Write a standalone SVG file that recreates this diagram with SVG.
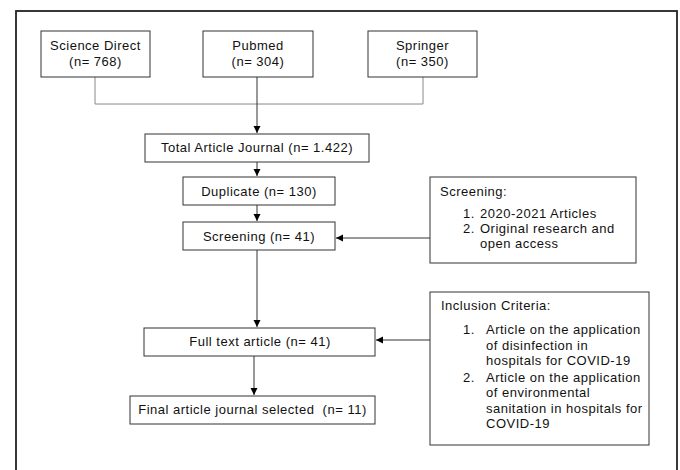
<svg xmlns="http://www.w3.org/2000/svg" width="680" height="470" viewBox="0 0 680 470">
<defs>
<marker id="ah" markerWidth="8" markerHeight="8" refX="7" refY="4" orient="auto" markerUnits="userSpaceOnUse">
<path d="M0,0.5 L7,4 L0,7.5 z" fill="#000"/>
</marker>
<style>
.box{fill:#fff;stroke:#333;stroke-width:1}
.t{font-family:"Liberation Sans",Arial,sans-serif;font-size:13px;letter-spacing:0.5px;fill:#111}
.c{text-anchor:middle}
.ln{fill:none;stroke:#333;stroke-width:1}
.gl{fill:none;stroke:#888;stroke-width:1}
</style>
</defs>
<rect x="0" y="0" width="680" height="470" fill="#fff"/>
<rect id="frame" x="16" y="11" width="661" height="470" fill="none" stroke="#222" stroke-width="1.8"/>
<g id="connectors">
<polyline class="gl" points="95,77 95,104 423,104 423,77"/>
<line class="ln" x1="257" y1="77" x2="257" y2="133" marker-end="url(#ah)"/>
<line class="ln" x1="257" y1="162" x2="257" y2="176" marker-end="url(#ah)"/>
<line class="ln" x1="257" y1="205" x2="257" y2="221" marker-end="url(#ah)"/>
<line class="ln" x1="430" y1="238" x2="336" y2="238" marker-end="url(#ah)"/>
<line class="ln" x1="257" y1="250" x2="257" y2="327" marker-end="url(#ah)"/>
<line class="ln" x1="430" y1="340" x2="376" y2="340" marker-end="url(#ah)"/>
<line class="ln" x1="254" y1="356" x2="254" y2="395" marker-end="url(#ah)"/>
</g>
<g id="science-direct">
<rect class="box" x="41" y="31" width="109" height="46"/>
<text class="t c" x="95.5" y="50">Science Direct</text>
<text class="t c" x="95.5" y="66">(n= 768)</text>
</g>
<g id="pubmed">
<rect class="box" x="203" y="31" width="110" height="46"/>
<text class="t c" x="258" y="50">Pubmed</text>
<text class="t c" x="258" y="66">(n= 304)</text>
</g>
<g id="springer">
<rect class="box" x="368" y="31" width="109" height="46"/>
<text class="t c" x="422.5" y="50">Springer</text>
<text class="t c" x="422.5" y="66">(n= 350)</text>
</g>
<g id="total">
<rect class="box" x="145" y="134" width="224" height="28"/>
<text class="t c" x="257" y="152">Total Article Journal (n= 1.422)</text>
</g>
<g id="duplicate">
<rect class="box" x="183" y="177" width="152" height="28"/>
<text class="t c" x="259" y="196">Duplicate (n= 130)</text>
</g>
<g id="screening">
<rect class="box" x="183" y="222" width="152" height="28"/>
<text class="t c" x="259" y="241">Screening (n= 41)</text>
</g>
<g id="screening-criteria">
<rect class="box" x="430" y="177" width="206" height="86"/>
<text class="t" x="440" y="196">Screening:</text>
<text class="t" x="463" y="218">1.</text>
<text class="t" x="480" y="218">2020-2021 Articles</text>
<text class="t" x="463" y="233">2.</text>
<text class="t" x="480" y="233">Original research and</text>
<text class="t" x="480" y="248">open access</text>
</g>
<g id="full-text">
<rect class="box" x="144" y="328" width="231" height="28"/>
<text class="t c" x="260" y="346">Full text article (n= 41)</text>
</g>
<g id="inclusion-criteria">
<rect class="box" x="430" y="292" width="219" height="153"/>
<text class="t" x="441" y="310">Inclusion Criteria:</text>
<text class="t" x="463" y="334">1.</text>
<text class="t" x="486" y="334">Article on the application</text>
<text class="t" x="486" y="349.5">of disinfection in</text>
<text class="t" x="486" y="365">hospitals for COVID-19</text>
<text class="t" x="463" y="381.5">2.</text>
<text class="t" x="486" y="381.5">Article on the application</text>
<text class="t" x="486" y="397">of environmental</text>
<text class="t" x="486" y="412.5">sanitation in hospitals for</text>
<text class="t" x="486" y="428">COVID-19</text>
</g>
<g id="final">
<rect class="box" x="130" y="396" width="245" height="28"/>
<text class="t c" x="252.5" y="414" xml:space="preserve">Final article journal selected  (n= 11)</text>
</g>
</svg>
